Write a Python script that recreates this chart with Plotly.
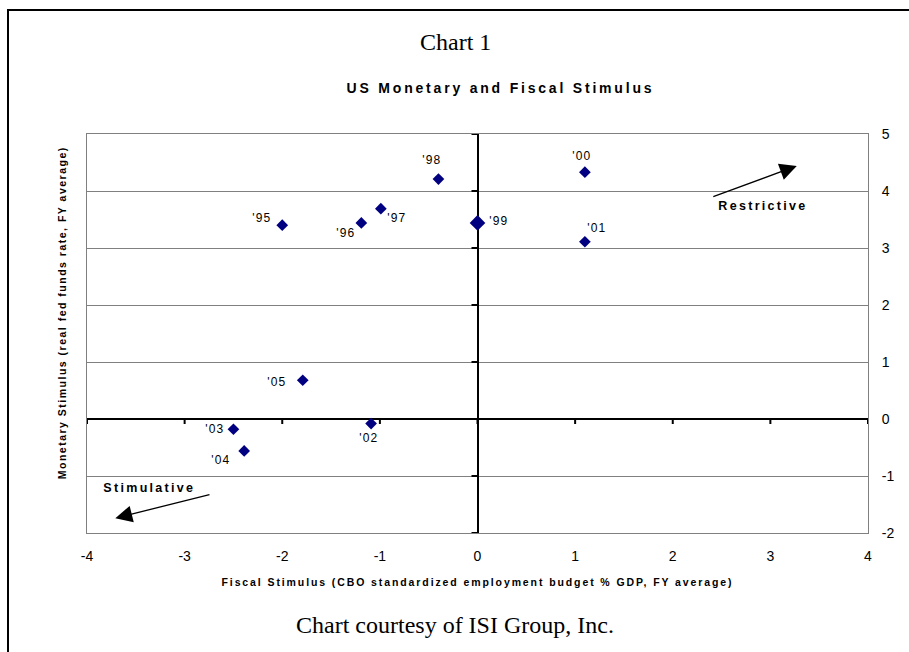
import json
import plotly.graph_objects as go

# Fiscal vs. monetary stance by fiscal year
years = ["'95", "'96", "'97", "'98", "'99", "'00", "'01", "'02", "'03", "'04", "'05"]
fiscal = [-2.00, -1.19, -0.99, -0.40, 0.00, 1.10, 1.10, -1.09, -2.50, -2.39, -1.79]
monetary = [3.40, 3.44, 3.69, 4.21, 3.44, 4.33, 3.11, -0.08, -0.18, -0.56, 0.68]

x_ticks = [-4, -3, -2, -1, 0, 1, 2, 3, 4]
y_ticks = [-2, -1, 0, 1, 2, 3, 4, 5]

W, H = 909, 652
L, R, T, B = 87, 41, 134, 119
PW, PH = W - L - R, H - T - B

SANS = "Arial, Liberation Sans, sans-serif"
SERIF = "Times New Roman, Liberation Serif, serif"
NAVY = "#000080"
GRID = "#808080"


def fx(px):
    """page pixel -> paper x"""
    return (px - L) / PW


def fy(py):
    """page pixel (from top) -> paper y"""
    return (H - B - py) / PH


# label placement around each marker (pixels, y up)
label_shift = {
    "'95": (-20, 7), "'96": (-15, -10), "'97": (16, -9), "'98": (-6, 19),
    "'99": (21, 2), "'00": (-3, 16), "'01": (12, 14), "'02": (-2, -14),
    "'03": (-18, 0), "'04": (-23, -9), "'05": (-26, -2),
}
marker_size = [12 if y == "'99" else 9 for y in years]

fig = go.Figure(
    go.Scatter(
        x=fiscal, y=monetary, mode="markers",
        marker=dict(symbol="diamond", color=NAVY, size=marker_size, opacity=1,
                    line=dict(width=0)),
        hoverinfo="skip", showlegend=False,
    )
)

annotations = []
spacing = []


def add_text(text, spacing_px=0, **kw):
    annotations.append(dict(text=text, showarrow=False, xanchor="center",
                            yanchor="middle", **kw))
    spacing.append(spacing_px)


for yr, xv, yv in zip(years, fiscal, monetary):
    dx, dy = label_shift[yr]
    add_text(yr, 1.2, x=xv, y=yv, xref="x", yref="y", xshift=dx, yshift=dy,
             font=dict(family=SANS, size=12, color="black"))

# titles
add_text("Chart 1", 0, x=fx(455), y=fy(42), xref="paper", yref="paper",
         font=dict(family=SERIF, size=24, color="black"))
add_text("<b>US Monetary and Fiscal Stimulus</b>", 2.8, x=fx(501), y=fy(88),
         xref="paper", yref="paper", font=dict(family=SANS, size=14, color="black"))
add_text("Chart courtesy of ISI Group, Inc.", 0, x=fx(455), y=fy(625),
         xref="paper", yref="paper", font=dict(family=SERIF, size=24, color="black"))

# axis titles
add_text("<b>Fiscal Stimulus (CBO standardized employment budget % GDP, FY average)</b>", 1.9,
         x=fx(477), y=fy(582), xref="paper", yref="paper",
         font=dict(family=SANS, size=10.5, color="black"))
add_text("<b>Monetary Stimulus (real fed funds rate, FY average)</b>", 1.5,
         x=fx(62), y=fy(313), xref="paper", yref="paper", textangle=-90,
         font=dict(family=SANS, size=10.5, color="black"))

# direction labels
add_text("<b>Restrictive</b>", 2.3, x=fx(763), y=fy(206), xref="paper", yref="paper",
         font=dict(family=SANS, size=12.5, color="black"))
add_text("<b>Stimulative</b>", 2.3, x=fx(149), y=fy(488), xref="paper", yref="paper",
         font=dict(family=SANS, size=12.5, color="black"))

# direction arrows (head, tail) in axis units
arrows = [((3.27, 4.44), (2.40, 3.89)), ((-3.71, -1.74), (-2.73, -1.32))]
for (hx, hy), (tx, ty) in arrows:
    annotations.append(dict(
        x=hx, y=hy, ax=tx, ay=ty, xref="x", yref="y", axref="x", ayref="y",
        text="", showarrow=True, arrowhead=2, arrowsize=2.6, arrowwidth=1.3,
        arrowcolor="black", standoff=0, startstandoff=0,
    ))
    spacing.append(0)

shapes = []
# tick marks on the crossing axes
for xv in x_ticks:
    shapes.append(dict(type="line", xref="x", yref="y", ysizemode="pixel", yanchor=0,
                       x0=xv, x1=xv, y0=1, y1=-5, line=dict(color="black", width=2)))
for yv in y_ticks:
    shapes.append(dict(type="line", xref="x", yref="y", xsizemode="pixel", xanchor=0,
                       y0=yv, y1=yv, x0=-6, x1=1, line=dict(color="black", width=2)))
# page frame
shapes.append(dict(type="line", xref="paper", yref="paper", layer="above",
                   x0=fx(8), x1=fx(8), y0=fy(9), y1=fy(660), line=dict(color="black", width=2)))
shapes.append(dict(type="line", xref="paper", yref="paper", layer="above",
                   x0=fx(7), x1=fx(920), y0=fy(10), y1=fy(10), line=dict(color="black", width=2)))

fig.update_layout(
    width=W, height=H,
    margin=dict(l=L, r=R, t=T, b=B, autoexpand=False),
    paper_bgcolor="white", plot_bgcolor="white",
    annotations=annotations, shapes=shapes,
    xaxis=dict(
        range=[-4, 4], tickvals=x_ticks, ticktext=[str(v) for v in x_ticks],
        showgrid=False, zeroline=True, zerolinecolor="black", zerolinewidth=2,
        showline=True, mirror=True, linecolor=GRID, linewidth=1,
        ticks="", ticklabelstandoff=10,
        tickfont=dict(family=SANS, size=14, color="black"),
    ),
    yaxis=dict(
        range=[-2, 5], tickvals=y_ticks, ticktext=[str(v) for v in y_ticks],
        side="right", showgrid=True, gridcolor=GRID, gridwidth=1,
        zeroline=True, zerolinecolor="black", zerolinewidth=2,
        showline=True, mirror=True, linecolor=GRID, linewidth=1,
        ticks="", ticklabelstandoff=10,
        tickfont=dict(family=SANS, size=14, color="black"),
    ),
)

# widen the letter spacing of the sans-serif captions
post = (
    "var gd=document.getElementById('{plot_id}');"
    "var sp=" + json.dumps(spacing) + ";"
    "gd.querySelectorAll('g.annotation').forEach(function(g){"
    "var s=sp[+g.getAttribute('data-index')];"
    "if(s){g.querySelectorAll('text').forEach(function(t){t.style.letterSpacing=s+'px';});}"
    "});"
)

fig.write_html("out.html", post_script=post)
